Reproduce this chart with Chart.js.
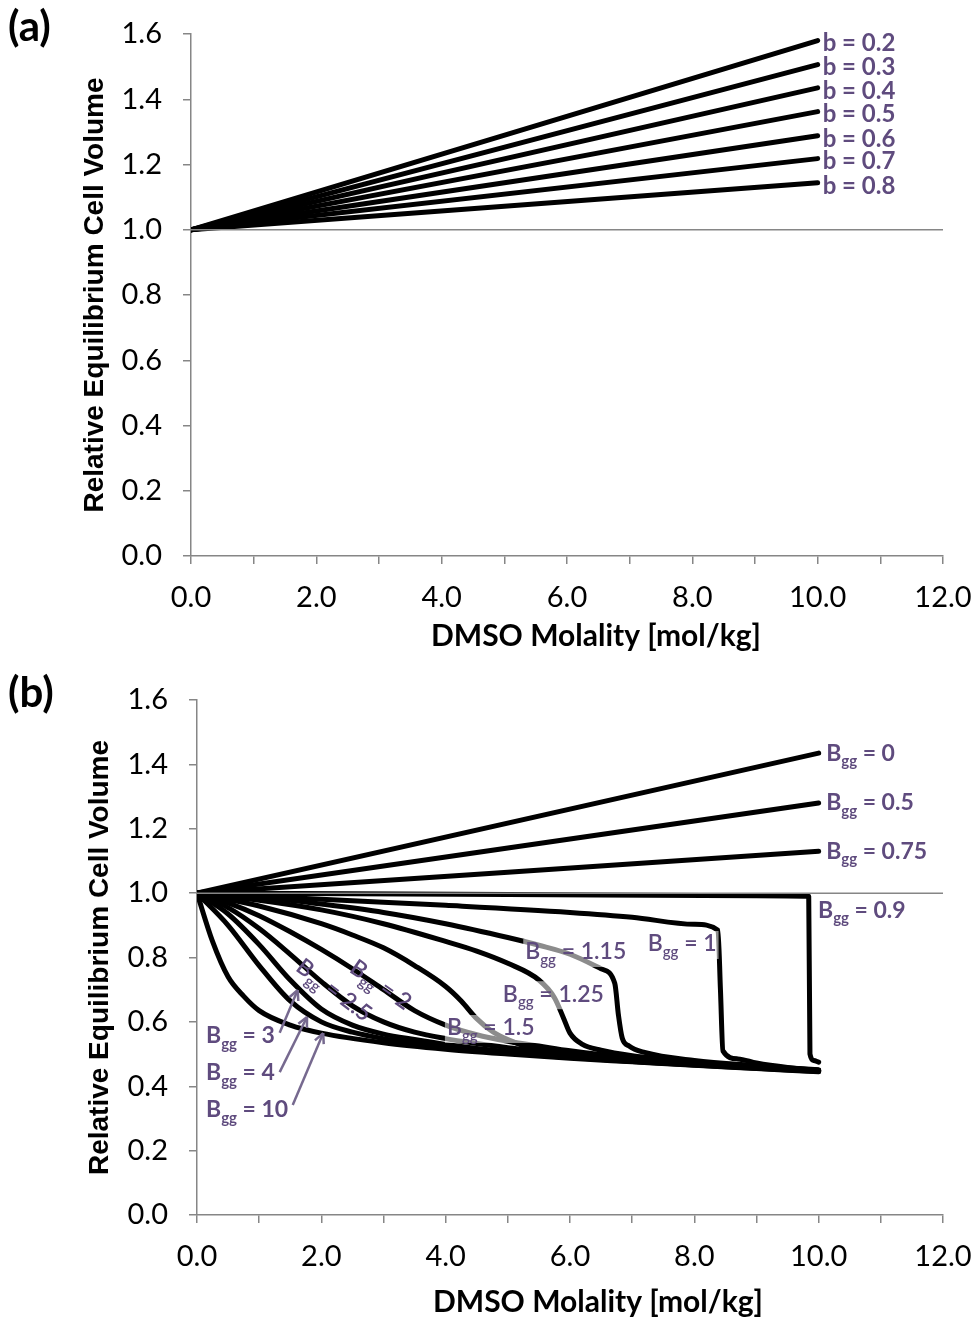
<!DOCTYPE html>
<html>
<head>
<meta charset="utf-8">
<script src="https://cdn.jsdelivr.net/npm/chart.js@4.4.1/dist/chart.umd.min.js"></script>
<style>
    body { margin: 0; background: #fff; width: 975px; height: 1319px; position: relative; overflow: hidden; }
    .panel { position: absolute; left: 0; width: 975px; }
</style>
</head>
<body>
<div class="panel" style="top:0;height:660px"><canvas id="grafica_a" width="975" height="660"></canvas></div>
<div class="panel" style="top:660px;height:659px"><canvas id="grafica_b" width="975" height="659"></canvas></div>
<script>
// ---- datos panel (a): rectas desde (0, 1.0) hasta 10 mol/kg
const molalidadA = [0, 10];
const bValores = ['0.2', '0.3', '0.4', '0.5', '0.6', '0.7', '0.8'];
const volInicioA = [1, 1, 1, 1, 1, 1, 1];
const volFinalA = [1.58, 1.506, 1.435, 1.362, 1.288, 1.218, 1.144];

// ---- datos panel (b): una curva por valor de Bgg
const bggRectas = ['0', '0.5', '0.75'];
const molalidadRectas = [0, 10];
const volRectaBgg0 = [1, 1.435];
const volRectaBgg05 = [1, 1.28];
const volRectaBgg075 = [1, 1.13];

const molBgg09 = [0, 5, 9, 9.84, 9.86, 9.92, 10];
const volBgg09 = [1, 0.996, 0.992, 0.99, 0.50, 0.48, 0.475];

const molBgg1 = [0, 2, 4, 6, 7, 8, 8.38, 8.42, 8.46, 8.7, 9, 9.5, 10];
const volBgg1 = [1, 0.981, 0.962, 0.94, 0.925, 0.903, 0.885, 0.70, 0.51, 0.485, 0.472, 0.458, 0.449];

const molBgg115 = [0, 1, 2, 3, 4, 5, 5.5, 6, 6.5, 6.72, 6.78, 6.84, 6.95, 7.2, 8, 9, 10];
const volBgg115 = [1, 0.988, 0.966, 0.94, 0.905, 0.862, 0.838, 0.81, 0.765, 0.72, 0.62, 0.55, 0.525, 0.505, 0.48, 0.464, 0.451];

const molBgg125 = [0, 1, 2, 3, 4, 4.5, 5, 5.5, 5.75, 5.9, 6.0, 6.2, 6.5, 7, 8, 9, 10];
const volBgg125 = [1, 0.978, 0.948, 0.905, 0.85, 0.82, 0.782, 0.73, 0.675, 0.61, 0.565, 0.53, 0.512, 0.495, 0.475, 0.461, 0.45];

const molBgg15 = [0, 1, 2, 2.5, 3, 3.5, 4, 4.25, 4.5, 4.75, 5, 5.5, 6, 7, 8, 9, 10];
const volBgg15 = [1, 0.96, 0.905, 0.87, 0.83, 0.775, 0.71, 0.665, 0.61, 0.57, 0.545, 0.512, 0.5, 0.482, 0.469, 0.458, 0.448];

const molBgg2 = [0, 0.5, 1, 1.5, 2, 2.5, 3, 3.5, 4, 4.5, 5, 5.5, 6, 7, 8, 9, 10];
const volBgg2 = [1, 0.97, 0.93, 0.88, 0.825, 0.765, 0.7, 0.635, 0.59, 0.56, 0.54, 0.525, 0.51, 0.487, 0.472, 0.46, 0.449];

const molBgg25 = [0, 0.5, 1, 1.5, 2, 2.5, 3, 3.5, 4, 4.5, 5, 6, 7, 8, 9, 10];
const volBgg25 = [1, 0.955, 0.89, 0.81, 0.725, 0.65, 0.6, 0.568, 0.548, 0.533, 0.52, 0.497, 0.481, 0.469, 0.458, 0.448];

const molBgg3 = [0, 0.5, 1, 1.5, 2, 2.5, 3, 3.5, 4, 5, 6, 7, 8, 9, 10];
const volBgg3 = [1, 0.935, 0.84, 0.73, 0.64, 0.59, 0.562, 0.545, 0.53, 0.507, 0.491, 0.478, 0.467, 0.457, 0.447];

const molBgg4 = [0, 0.5, 1, 1.5, 2, 2.5, 3, 4, 5, 6, 7, 8, 9, 10];
const volBgg4 = [1, 0.9, 0.775, 0.665, 0.6, 0.568, 0.548, 0.522, 0.503, 0.489, 0.477, 0.466, 0.456, 0.446];

const molBgg10 = [0, 0.25, 0.5, 0.75, 1, 1.5, 2, 3, 4, 5, 6, 7, 8, 9, 10];
const volBgg10 = [1, 0.85, 0.74, 0.68, 0.635, 0.59, 0.565, 0.535, 0.515, 0.5, 0.487, 0.476, 0.465, 0.455, 0.445];

// linea gris de referencia en 1.0
const molRef = [0, 12];
const volRef = [1, 1];

// ticks
const yTicks = ['0.0', '0.2', '0.4', '0.6', '0.8', '1.0', '1.2', '1.4', '1.6'];
const xTicks = ['0.0', '2.0', '4.0', '6.0', '8.0', '10.0', '12.0'];

const morado = '#5F4B7E';
const gris = '#868686';

function puntos(xs, ys) {
    return xs.map((x, i) => ({ x: x, y: ys[i] }));
}

function serie(xs, ys) {
    return {
        data: puntos(xs, ys),
        borderColor: '#000',
        borderWidth: 5,
        pointRadius: 0,
        showLine: true,
        fill: false,
        cubicInterpolationMode: 'monotone',
        borderCapStyle: 'round',
        borderJoinStyle: 'round'
    };
}

function serieRef() {
    return {
        data: puntos(molRef, volRef),
        borderColor: gris,
        borderWidth: 1.5,
        pointRadius: 0,
        showLine: true,
        fill: false
    };
}

function dibujaBgg(ctx, valor, px, py, rot, negrita, fondo) {
    const peso = negrita ? 'bold' : '600';
    ctx.save();
    ctx.translate(px, py);
    ctx.rotate(rot * Math.PI / 180);
    ctx.font = peso + ' 23px Lato';
    const wB = ctx.measureText('B').width;
    const resto = ' = ' + valor;
    const wR = ctx.measureText(resto).width;
    ctx.font = peso + ' 15px Lato';
    const wG = ctx.measureText('gg').width;
    if (fondo) {
        ctx.fillStyle = 'rgba(255,255,255,0.55)';
        ctx.fillRect(-2, -13, wB + wG + wR + 4, 28);
    }
    ctx.fillStyle = morado;
    ctx.textBaseline = 'middle';
    ctx.textAlign = 'left';
    ctx.font = peso + ' 23px Lato';
    ctx.fillText('B', 0, 0);
    ctx.font = peso + ' 15px Lato';
    ctx.fillText('gg', wB, 8);
    ctx.font = peso + ' 23px Lato';
    ctx.fillText(resto, wB + wG, 0);
    ctx.restore();
}

const pluginTextos = {
    id: 'textos',
    afterDatasetsDraw(chart, args, opts) {
        const ctx = chart.ctx;
        const sx = chart.scales.x, sy = chart.scales.y;
        ctx.save();
        // letra del panel
        ctx.fillStyle = '#000';
        ctx.font = 'bold 42px Lato';
        ctx.textBaseline = 'top';
        ctx.textAlign = 'left';
        ctx.fillText(opts.panel, 8, opts.panelY);
        // titulo eje x
        ctx.font = 'bold 30px Lato';
        ctx.textAlign = 'center';
        ctx.textBaseline = 'middle';
        ctx.fillText('DMSO Molality [mol/kg]', opts.tituloX, opts.tituloY);
        // flechas
        (opts.flechas || []).forEach(f => {
            const x1 = sx.getPixelForValue(f[0]), y1 = sy.getPixelForValue(f[1]);
            const x2 = sx.getPixelForValue(f[2]), y2 = sy.getPixelForValue(f[3]);
            const ang = Math.atan2(y2 - y1, x2 - x1);
            ctx.strokeStyle = '#76698F';
            ctx.lineWidth = 2.5;
            ctx.beginPath();
            ctx.moveTo(x1, y1);
            ctx.lineTo(x2, y2);
            ctx.stroke();
            ctx.beginPath();
            ctx.moveTo(x2, y2);
            ctx.lineTo(x2 - 11 * Math.cos(ang - 0.45), y2 - 11 * Math.sin(ang - 0.45));
            ctx.moveTo(x2, y2);
            ctx.lineTo(x2 - 11 * Math.cos(ang + 0.45), y2 - 11 * Math.sin(ang + 0.45));
            ctx.stroke();
        });
        // etiquetas simples (panel a)
        (opts.simples || []).forEach(e => {
            ctx.fillStyle = morado;
            ctx.font = 'bold 24px Lato';
            ctx.textAlign = 'left';
            ctx.textBaseline = 'middle';
            ctx.fillText(e.texto, sx.getPixelForValue(e.x) + 5, sy.getPixelForValue(e.y) + 3);
        });
        // etiquetas Bgg (panel b)
        (opts.bgg || []).forEach(e => {
            dibujaBgg(ctx, e.v, sx.getPixelForValue(e.x), sy.getPixelForValue(e.y), e.rot || 0, e.negrita, e.fondo);
        });
        ctx.restore();
    }
};

function opciones(ejeY, padTop, textos) {
    return {
        responsive: false,
        animation: false,
        layout: { padding: { top: padTop, right: 32, left: 0, bottom: 0 } },
        plugins: {
            legend: { display: false },
            tooltip: { enabled: false },
            textos: textos
        },
        scales: {
            x: {
                type: 'linear',
                min: 0,
                max: 12,
                afterFit: s => { s.height = 104; s.paddingLeft = 0; s.paddingRight = 0; },
                border: { color: gris, width: 1.5 },
                grid: { drawOnChartArea: false, drawTicks: true, tickLength: 8, color: gris, lineWidth: 1.5 },
                ticks: {
                    stepSize: 1,
                    autoSkip: false,
                    maxRotation: 0,
                    padding: 16,
                    color: '#000',
                    font: { family: 'Lato', size: 29 },
                    callback: v => (v % 2 === 0 ? xTicks[v / 2] : '')
                }
            },
            y: {
                min: 0,
                max: 1.6,
                afterFit: s => { s.width = ejeY.ancho; s.paddingTop = 0; s.paddingBottom = 0; },
                border: { color: gris, width: 1.5 },
                grid: { drawOnChartArea: false, drawTicks: true, tickLength: 8, color: gris, lineWidth: 1.5 },
                ticks: {
                    stepSize: 0.2,
                    padding: 21,
                    color: '#000',
                    font: { family: 'Lato', size: 29 },
                    callback: v => yTicks[Math.round(v / 0.2)]
                },
                title: {
                    display: true,
                    text: 'Relative Equilibrium Cell Volume',
                    color: '#000',
                    font: { family: 'Liberation Sans', size: 28, weight: 'bold' },
                    padding: { top: ejeY.pad, bottom: 0 }
                }
            }
        }
    };
}

document.addEventListener('DOMContentLoaded', () => {
    // ---- panel (a)
    const datosA = [serieRef()];
    volFinalA.forEach((v, i) => datosA.push(serie(molalidadA, [volInicioA[i], v])));

    new Chart(document.getElementById('grafica_a').getContext('2d'), {
        type: 'scatter',
        data: { datasets: datosA },
        options: opciones({ ancho: 191, pad: 78 }, 34, {
            panel: '(a)',
            panelY: 6,
            tituloX: 596,
            tituloY: 636,
            simples: bValores.map((b, i) => ({ texto: 'b = ' + b, x: 10, y: volFinalA[i] }))
        }),
        plugins: [pluginTextos]
    });

    // ---- panel (b)
    const datosB = [
        serieRef(),
        serie(molalidadRectas, volRectaBgg0),
        serie(molalidadRectas, volRectaBgg05),
        serie(molalidadRectas, volRectaBgg075),
        serie(molBgg09, volBgg09),
        serie(molBgg1, volBgg1),
        serie(molBgg115, volBgg115),
        serie(molBgg125, volBgg125),
        serie(molBgg15, volBgg15),
        serie(molBgg2, volBgg2),
        serie(molBgg25, volBgg25),
        serie(molBgg3, volBgg3),
        serie(molBgg4, volBgg4),
        serie(molBgg10, volBgg10)
    ];

    new Chart(document.getElementById('grafica_b').getContext('2d'), {
        type: 'scatter',
        data: { datasets: datosB },
        options: opciones({ ancho: 197, pad: 83 }, 40, {
            panel: '(b)',
            panelY: 12,
            tituloX: 598,
            tituloY: 642,
            flechas: [
                [1.33, 0.566, 1.62, 0.699],
                [1.33, 0.444, 1.77, 0.615],
                [1.54, 0.342, 2.03, 0.565]
            ],
            bgg: [
                { v: bggRectas[0], x: 10.12, y: 1.435, negrita: true },
                { v: bggRectas[1], x: 10.12, y: 1.28, negrita: true },
                { v: bggRectas[2], x: 10.12, y: 1.13, negrita: true },
                { v: '0.9', x: 9.99, y: 0.947, negrita: true },
                { v: '1.15', x: 5.28, y: 0.817, fondo: true },
                { v: '1', x: 7.25, y: 0.842, fondo: true },
                { v: '1.25', x: 4.92, y: 0.686, fondo: true },
                { v: '1.5', x: 4.02, y: 0.581, fondo: true },
                { v: '2', x: 2.5, y: 0.776, rot: 35 },
                { v: '2.5', x: 1.64, y: 0.78, rot: 37 },
                { v: '3', x: 0.145, y: 0.556, negrita: true },
                { v: '4', x: 0.145, y: 0.441, negrita: true },
                { v: '10', x: 0.145, y: 0.326, negrita: true }
            ]
        }),
        plugins: [pluginTextos]
    });
});
</script>
</body>
</html>
